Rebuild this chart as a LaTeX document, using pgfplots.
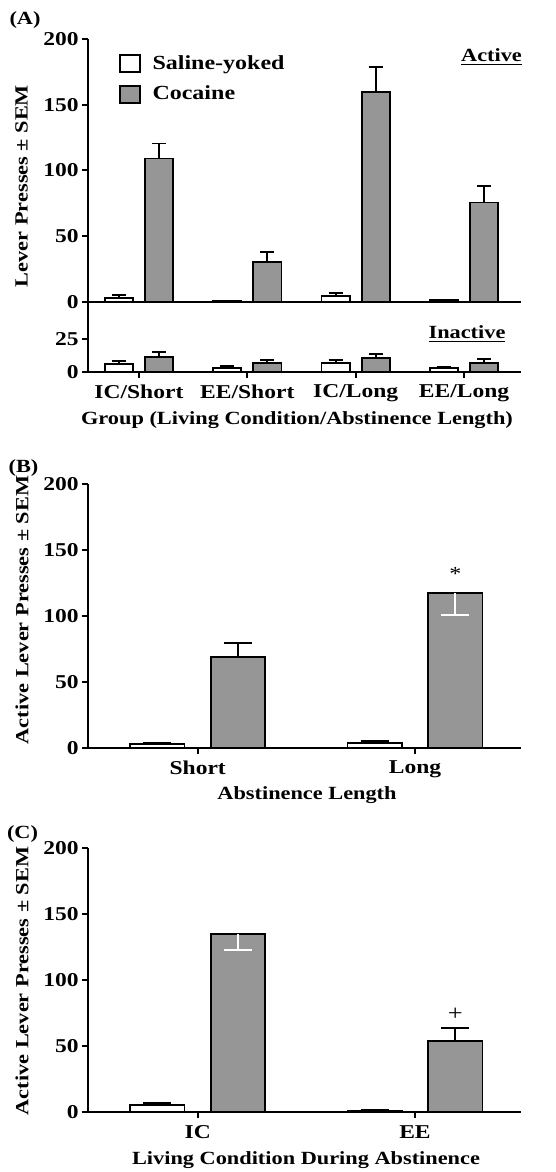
\documentclass[border=0pt]{standalone}
\usepackage{fontspec}
\setmainfont{Liberation Serif}[FakeStretch=1.2]
\usepackage{pgfplots}
\pgfplotsset{compat=1.18}
\definecolor{cocaine}{RGB}{150,150,150}

\pgfplotsset{
  panel/.style={
    scale only axis, anchor=south west, clip=false,
    axis lines*=left, axis line style={line width=1pt},
    tick align=outside, major tick length=3pt,
    tick style={black, line width=1pt},
    ymin=0,
    every tick label/.append style={font=\bfseries\fontsize{9.8}{10}\selectfont},
    yticklabel style={inner sep=1.5pt},
    /pgf/number format/assume math mode=true,
  },
  salbar/.style={ybar, bar width=#1, fill=white, draw=black, line width=0.9pt, forget plot},
  cocbar/.style={ybar, bar width=#1, fill=cocaine, draw=black, line width=0.9pt, forget plot},
  errup/.style={error bars/.cd, y dir=plus, y explicit,
    error bar style={black, line width=0.9pt},
    error mark options={black, line width=0.9pt, mark size=#1, rotate=90}},
  errdown/.style={error bars/.cd, y dir=minus, y explicit,
    error bar style={white, line width=0.9pt},
    error mark options={white, line width=0.9pt, mark size=#1, rotate=90}},
}

\begin{document}
\begin{tikzpicture}
\useasboundingbox (0,0) rectangle (278pt,-586pt);

% (A) active lever
\begin{axis}[panel, at={(44pt,-150.85pt)}, width=216.5pt, height=131.35pt,
  xmin=-0.47, xmax=3.526, ymax=200, ytick={0,50,100,150,200}, xtick=\empty,
  legend style={at={(0.07,0.955)}, anchor=north west, draw=none, fill=none,
    inner sep=0pt, row sep=3pt, column sep=4pt, font=\bfseries\fontsize{10}{11}\selectfont},
  legend cell align=left]
\addplot[salbar=0.26, errup=3.5pt] coordinates {
  (-0.185,3.0) +- (0,2.0) (0.815,0.5) +- (0,0.3) (1.815,4.6) +- (0,2.2) (2.815,1.0) +- (0,0.4)};
\addplot[cocbar=0.26, errup=3.5pt] coordinates {
  (0.185,109.0) +- (0,11.5) (1.185,30.4) +- (0,7.2) (2.185,159.4) +- (0,19.0) (3.185,75.6) +- (0,12.7)};
\addlegendimage{legend image code/.code={\draw[fill=white,draw=black,line width=0.9pt] (0pt,-4.25pt) rectangle (10pt,4.25pt);}}
\addlegendentry{Saline-yoked}
\addlegendimage{legend image code/.code={\draw[fill=cocaine,draw=black,line width=0.9pt] (0pt,-4.25pt) rectangle (10pt,4.25pt);}}
\addlegendentry{Cocaine}
\end{axis}

% (A) inactive lever
\begin{axis}[panel, at={(44pt,-185.85pt)}, width=216.5pt, height=35pt,
  xmin=-0.47, xmax=3.526, ymax=54, ytick={0,25},
  xtick={0,1,2,3}, xticklabels={IC/Short,EE/Short,IC/Long,EE/Long}]
\addplot[salbar=0.26, errup=3.5pt] coordinates {
  (-0.185,5.9) +- (0,2.6) (0.815,3.1) +- (0,1.5) (1.815,6.7) +- (0,2.3) (2.815,2.6) +- (0,1.0)};
\addplot[cocbar=0.26, errup=3.5pt] coordinates {
  (0.185,11.6) +- (0,3.4) (1.185,6.9) +- (0,1.9) (2.185,10.6) +- (0,2.8) (3.185,6.9) +- (0,3.1)};
\end{axis}

% (B) abstinence length
\begin{axis}[panel, at={(44pt,-373.85pt)}, width=216.5pt, height=131.7pt,
  xmin=-0.505, xmax=1.488, ymax=200, ytick={0,50,100,150,200},
  xtick={0,1}, xticklabels={Short,Long}]
\addplot[salbar=0.25, errup=7pt] coordinates {(-0.186,2.8) +- (0,1.0) (0.814,3.8) +- (0,1.0)};
\addplot[cocbar=0.25, errup=7pt] coordinates {(0.186,68.9) +- (0,10.6)};
\addplot[cocbar=0.25, errdown=7pt] coordinates {(1.186,117.2) +- (0,16.2)};
\node[font=\fontsize{10}{10}\selectfont] at (axis cs:1.186,132) {*};
\end{axis}

% (C) living condition
\begin{axis}[panel, at={(44pt,-556.15pt)}, width=216.5pt, height=132pt,
  xmin=-0.505, xmax=1.488, ymax=200, ytick={0,50,100,150,200},
  xtick={0,1}, xticklabels={IC,EE}]
\addplot[salbar=0.25, errup=7pt] coordinates {(-0.186,5.5) +- (0,1.5) (0.814,1.2) +- (0,0.3)};
\addplot[cocbar=0.25, errdown=7pt] coordinates {(0.186,135.3) +- (0,12.6)};
\addplot[cocbar=0.25, errup=7pt] coordinates {(1.186,54.0) +- (0,9.6)};
\node[font=\fontsize{11}{11}\selectfont] at (axis cs:1.186,74) {+};
\end{axis}

\begin{scope}[every node/.style={font=\bfseries\fontsize{9.3}{10}\selectfont}]
\node at (12.5pt,-10pt) {(A)};
\node at (11.75pt,-234pt) {(B)};
\node at (11.25pt,-417pt) {(C)};
\node at (245.75pt,-28.5pt) {\underline{Active}};
\node at (233.5pt,-167pt) {\underline{Inactive}};
\node[rotate=90] at (10.75pt,-93pt) {Lever Presses ± SEM};
\node[rotate=90] at (11pt,-305pt) {Active Lever Presses ± SEM};
\node[rotate=90] at (11pt,-490.5pt) {Active Lever Presses ± SEM};
\node at (148.5pt,-210pt) {Group (Living Condition/Abstinence Length)};
\node at (153.5pt,-397.5pt) {Abstinence Length};
\node at (153pt,-580pt) {Living Condition During Abstinence};
\end{scope}
\end{tikzpicture}
\end{document}
